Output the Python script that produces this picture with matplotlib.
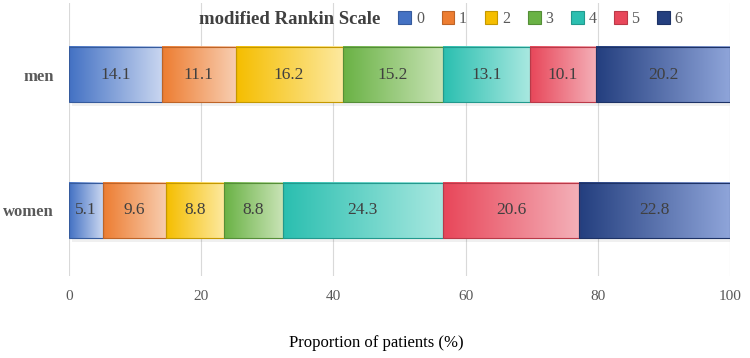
import numpy as np
import matplotlib
matplotlib.use("Agg")
import matplotlib.pyplot as plt
from matplotlib.colors import to_rgb
from matplotlib.patches import Rectangle

plt.rcParams['font.family'] = ['Liberation Serif', 'DejaVu Serif']

groups = ['women', 'men']
scores = ['0', '1', '2', '3', '4', '5', '6']
men = [14.1, 11.1, 16.2, 15.2, 13.1, 10.1, 20.2]
women = [5.1, 9.6, 8.8, 8.8, 24.3, 20.6, 22.8]
values = [women, men]

start_colors = ['#4472C4', '#ED7D31', '#F5BE00', '#6AB245', '#2BBFB0', '#E8475A', '#243F7F']
end_colors = ['#C9D6F0', '#F8CDB0', '#FDE9A0', '#C8E3B5', '#A8E8E0', '#F4B0B8', '#8EA4D9']


def gradient(c0, c1, n=64):
    a = np.array(to_rgb(c0))
    b = np.array(to_rgb(c1))
    t = np.linspace(0, 1, n)[:, None]
    row = a * (1 - t) + b * t
    return row[None, :, :]


def darker(c, f=0.8):
    return tuple(np.array(to_rgb(c)) * f)


fig = plt.figure(figsize=(7.5, 3.58), dpi=100)
ax = fig.add_axes([69 / 750, 1 - 276 / 358, 661 / 750, 273 / 358])

bar_h = 0.406
for yi, row in enumerate(values):
    left = 0
    # soft shadow under each bar
    ax.add_patch(Rectangle((0.4, yi - bar_h / 2 - 0.03), sum(row), bar_h,
                           facecolor='#000000', alpha=0.06, edgecolor='none', zorder=1))
    for k, v in enumerate(row):
        ax.imshow(gradient(start_colors[k], end_colors[k]), aspect='auto',
                  extent=[left, left + v, yi - bar_h / 2, yi + bar_h / 2],
                  interpolation='bilinear', zorder=2)
        ax.add_patch(Rectangle((left, yi - bar_h / 2), v, bar_h, facecolor='none',
                               edgecolor=darker(start_colors[k]), linewidth=0.8, zorder=3))
        ax.text(left + v / 2, yi, f'{v:.1f}', ha='center', va='center',
                fontsize=12.5, color='#404040', zorder=4)
        left += v

ax.set_xlim(0, 100)
ax.set_ylim(-0.487, 1.528)
ax.set_xticks([0, 20, 40, 60, 80, 100])
ax.set_yticks([0, 1])
ax.set_yticklabels(groups, fontweight='bold', fontsize=12, color='#595959')
ax.tick_params(axis='both', length=0)
ax.tick_params(axis='x', pad=10, labelsize=11, labelcolor='#595959')
ax.tick_params(axis='y', pad=11)
ax.grid(axis='x', color='#D9D9D9', linewidth=0.8, zorder=0)
ax.set_axisbelow(True)
for s in ax.spines.values():
    s.set_visible(False)

fig.text(376 / 750, 1 - 343 / 358, 'Proportion of patients (%)', ha='center', va='center',
         fontsize=12, color='#000000')

# legend
fig.text(380 / 750, 1 - 19 / 358, 'modified Rankin Scale', ha='right', va='center',
         fontsize=13.5, fontweight='bold', color='#404040')
handles = [Rectangle((0, 0), 1, 1, facecolor=start_colors[k], edgecolor=darker(start_colors[k]),
                     linewidth=0.8) for k in range(len(scores))]
fig.legend(handles, scores, loc='center left', bbox_to_anchor=(384 / 750, 1 - 19 / 358),
           ncol=7, frameon=False, fontsize=11.5, handlelength=0.8, handleheight=0.8,
           handletextpad=0.3, columnspacing=1.1, labelcolor='#595959')

fig.savefig('out.png', dpi=100)
